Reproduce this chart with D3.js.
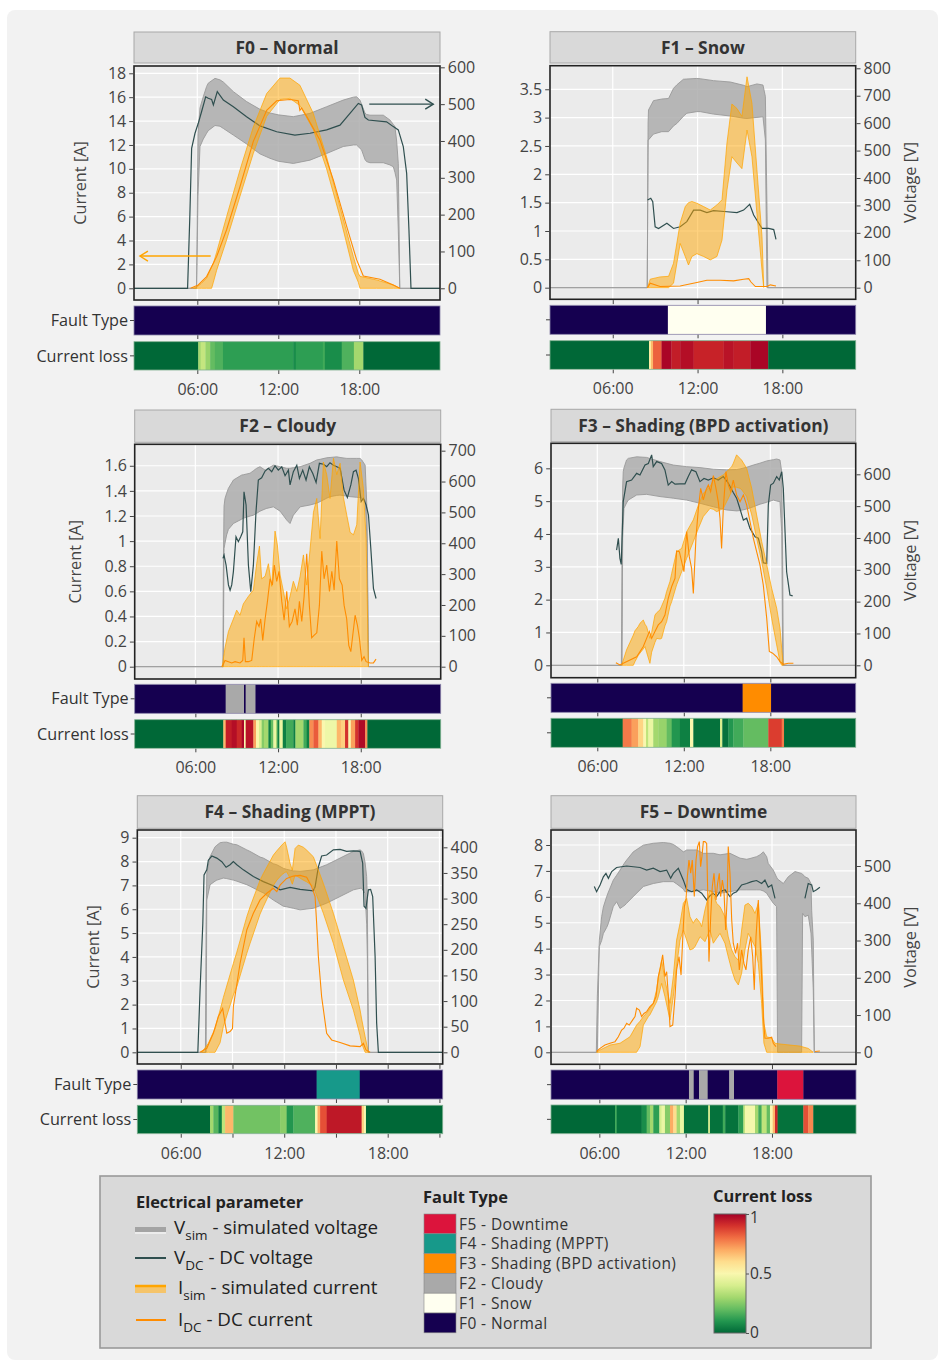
<!DOCTYPE html>
<html><head><meta charset="utf-8">
<script src="https://cdn.jsdelivr.net/npm/d3@7"></script>
<style>body{margin:0;background:#fff;} svg{display:block;font-family:"Open Sans",sans-serif;}</style>
</head><body><svg id="c" width="940" height="1363"></svg>
<script>
// ---------------- DATA ----------------
const timeLabels = {6:"06:00",12:"12:00",18:"18:00"};
const timeTicks = [6,12,18];
const timeTicksF4 = [6,9,12,15,18,21];
const faultNames = ["F0 - Normal","F1 - Snow","F2 - Cloudy","F3 - Shading (BPD activation)","F4 - Shading (MPPT)","F5 - Downtime"];
const faultColors = ["#150050","#fffff0","#a9a9a9","#ff8c00","#17998a","#dc143c"];

// F0 – Normal
const F0_iTicks=[0,2,4,6,8,10,12,14,16,18];
const F0_vTicks=[0,100,200,300,400,500,600];
const F0_vsim=[[0,0,0],[5.95,0,0],[6.05,250,420],[6.2,385,490],[6.44,405,520],[6.69,421,548],[6.81,428,557],[7.31,442,570],[7.68,440,566],[7.93,434,560],[8.67,416,534],[9.65,392,507],[10.64,365,486],[11.38,353,476],[12.0,345,471],[13.11,339,466],[14.35,348,475],[15.58,366,493],[16.81,385,511],[17.56,389,519],[17.8,389,520],[18.05,380,511],[18.17,376,500],[18.42,350,476],[18.54,344,472],[18.79,341,470],[19.78,341,470],[20.27,335,457],[20.52,330,445],[20.64,315,439],[20.77,294,400],[20.89,158,339],[21.0,0,0],[24,0,0]];
const F0_vdc=[[0,0],[5.28,0],[5.45,200],[5.58,380],[5.83,421],[6.07,448],[6.32,480],[6.62,520],[6.81,516],[7.06,513],[7.19,498],[7.48,534],[7.93,511],[8.67,493],[9.65,466],[10.64,441],[11.88,425],[13.23,416],[14.35,421],[15.58,430],[16.57,443],[17.31,475],[17.93,502],[18.17,498],[18.42,464],[18.67,457],[20.02,452],[20.52,439],[20.89,430],[21.26,385],[21.51,312],[21.68,158],[21.83,0],[24,0]];
const F0_isim=[[5.7,0,0],[5.95,0,0.1],[6.3,0,0.4],[6.69,0,0.84],[7.06,0,1.8],[7.19,0.5,2.09],[7.43,1.5,3.0],[8.17,4.05,6.0],[9.16,7.7,9.9],[10.15,11.3,13.5],[11.14,14.4,16.3],[12.12,15.8,17.6],[12.86,15.9,17.6],[13.6,15.3,17.0],[14.59,13.3,14.65],[15.58,10.0,11.0],[16.57,6.0,6.8],[17.56,1.5,2.65],[17.93,0.5,1.25],[18.05,0,1.0],[19.28,0,0.7],[20.52,0,0.28],[21.0,0,0]];
const F0_idc=[[5.5,0],[6.07,0.28],[6.69,0.98],[7.43,2.65],[8.17,4.9],[9.16,8.5],[10.15,12.3],[11.14,14.9],[11.88,15.7],[12.86,15.8],[13.48,15.7],[13.6,14.9],[13.73,15.1],[14.1,14.4],[15.09,12.4],[16.07,9.1],[17.06,5.2],[17.8,2.4],[18.3,1.03],[19.53,0.75],[20.52,0.28],[21.0,0]];
const F0_fault=[[0,24,0]];
const F0_loss=[[0,0],[6.07,0.3],[6.25,0.36],[6.6,0.28],[6.95,0.2],[7.3,0.17],[7.9,0.12],[13.1,0.08],[13.3,0.12],[15.3,0.15],[15.45,0.08],[16.7,0.17],[17.6,0.3],[18.3,0]];
const F0_arrows=[{from:[6.99,2.7],to:[1.75,2.7],axis:"I",color:"#ffa500"},{from:[18.74,500],to:[23.48,500],axis:"V",color:"#2f4f4f"}];

// F1 – Snow
const F1_iTicks=[0,0.5,1,1.5,2,2.5,3,3.5];
const F1_vTicks=[0,100,200,300,400,500,600,700,800];
const F1_vsim=[[0,0,0],[8.44,0,0],[8.5,539,600],[8.53,539,648],[8.88,560,682],[9.47,569,688],[9.95,569,690],[10.3,590,727],[10.54,599,740],[11.0,625,760],[11.24,636,761],[11.95,642,763],[12.19,642,762],[13.13,633,755],[14.32,626,750],[15.26,618,738],[15.5,617,733],[16.2,621,743],[16.63,623,739],[16.8,539,697],[16.91,0,300],[16.98,0,0],[24,0,0]];
const F1_vdc=[[8.46,320],[8.69,326],[8.83,314],[9.0,222],[9.24,216],[9.83,235],[10.3,216],[10.77,222],[11.24,241],[11.72,283],[12.19,283],[12.66,274],[13.13,281],[14.08,277],[14.79,274],[15.26,283],[15.69,304],[15.97,265],[16.56,216],[17.03,216],[17.39,212],[17.55,176]];
const F1_isim=[[8.46,0,0],[8.65,0,0.15],[9.35,0,0.19],[9.95,0,0.2],[10.3,0.08,0.43],[10.77,0.78,1.14],[11.13,0.55,1.43],[11.36,0.4,1.5],[11.6,0.55,1.52],[11.95,0.6,1.49],[12.43,0.55,1.43],[12.9,0.49,1.37],[13.37,0.55,1.46],[13.73,0.84,1.55],[14.08,1.72,2.55],[14.43,2.31,3.24],[14.79,2.2,3.16],[15.14,2.1,3.02],[15.5,2.78,3.72],[15.85,2.31,3.25],[16.2,1.31,2.08],[16.56,0.31,0.9],[16.68,0,0.02]];
const F1_idc=[[8.46,0],[8.65,0.08],[9.35,0.02],[10.77,0.03],[11.95,0.09],[12.66,0.13],[13.61,0.13],[14.55,0.12],[15.26,0.15],[15.62,0.16],[15.78,0.1],[16.09,0.02],[16.91,0.02],[17.15,0.05],[17.55,0.03]];
const F1_fault=[[0,9.9,0],[9.9,16.84,1],[16.84,24,0]];
const F1_loss=[[0,0],[8.57,0.55],[8.7,0.68],[8.85,0.82],[9.45,0.99],[10.15,0.94],[10.77,0.97],[11.72,0.93],[13.84,0.96],[14.55,0.94],[15.73,0.99],[17.0,0]];

// F2 – Cloudy
const F2_iTicks=[0,0.2,0.4,0.6,0.8,1,1.2,1.4,1.6];
const F2_vTicks=[0,100,200,300,400,500,600,700];
const F2_vsim=[[0,0,0],[8.0,0,0],[8.03,0,300],[8.08,383,520],[8.15,400,545],[8.27,427,562],[8.4,445,578],[8.76,464,605],[9.36,478,621],[9.48,481,622],[9.97,488,627],[10.21,491,635],[10.45,497,643],[10.69,504,648],[11.06,511,637],[11.18,513,640],[11.66,518,653],[12.15,504,648],[12.63,475,643],[12.87,464,643],[13.11,491,645],[13.6,518,648],[14.32,524,659],[14.81,530,670],[15.05,535,672],[15.53,546,677],[15.77,551,678],[16.26,555,680],[16.5,556,678],[16.98,553,675],[17.23,551,675],[17.71,549,675],[17.95,548,675],[18.07,546,670],[18.32,540,653],[18.44,420,524],[18.48,300,400],[18.56,0,0],[24,0,0]];
const F2_vdc=[[8.0,351],[8.08,362],[8.23,329],[8.4,265],[8.52,248],[8.64,265],[8.76,308],[8.95,421],[9.12,405],[9.29,421],[9.44,437],[9.53,567],[9.68,524],[9.85,329],[10.02,243],[10.21,329],[10.4,502],[10.57,605],[10.81,612],[11.06,634],[11.3,643],[11.54,632],[11.78,651],[12.02,637],[12.27,648],[12.51,619],[12.75,637],[12.87,589],[13.11,632],[13.36,653],[13.55,610],[13.79,637],[14.03,605],[14.27,648],[14.52,626],[14.76,597],[15.0,659],[15.29,656],[15.53,648],[15.77,661],[16.02,653],[16.26,648],[16.5,643],[16.79,572],[17.03,548],[17.28,589],[17.47,632],[17.66,637],[17.83,610],[18.03,535],[18.19,545],[18.39,524],[18.56,491],[18.73,383],[18.92,254],[19.11,221]];
const F2_isim=[[7.95,0,0],[8.15,0,0.15],[8.4,0,0.28],[8.76,0,0.38],[9.0,0,0.45],[9.24,0,0.41],[9.48,0,0.5],[9.85,0,0.56],[10.21,0,0.61],[10.45,0,0.82],[10.65,0,0.96],[10.81,0,0.7],[11.06,0,0.72],[11.3,0,0.82],[11.54,0,0.64],[11.78,0,1.08],[11.95,0,0.97],[12.15,0,0.73],[12.39,0,0.6],[12.63,0,0.46],[12.87,0,0.56],[13.11,0,0.68],[13.36,0,0.6],[13.6,0,0.72],[13.84,0,0.89],[14.08,0,0.65],[14.32,0,0.93],[14.57,0,1.23],[14.81,0,1.34],[15.05,0,1.02],[15.29,0,1.63],[15.53,0,1.53],[15.77,0,1.34],[16.02,0,1.66],[16.26,0,1.53],[16.5,0,1.62],[16.74,0,1.35],[16.98,0,1.21],[17.23,0,1.07],[17.47,0,1.05],[17.71,0,1.13],[17.95,0,1.63],[18.19,0,1.42],[18.39,0,1.02],[18.56,0,0]];
const F2_idc=[[7.91,0],[8.03,0.02],[8.15,0.05],[8.4,0.04],[8.64,0.03],[8.88,0.04],[9.24,0.03],[9.44,0.05],[9.53,0.23],[9.63,0.04],[9.85,0.04],[10.09,0.05],[10.28,0.23],[10.45,0.36],[10.62,0.32],[10.74,0.38],[10.89,0.21],[11.06,0.38],[11.23,0.52],[11.42,0.7],[11.59,0.65],[11.73,0.81],[11.9,0.68],[12.07,0.76],[12.27,0.52],[12.44,0.37],[12.63,0.6],[12.82,0.32],[13.02,0.36],[13.23,0.46],[13.4,0.33],[13.55,0.52],[13.72,0.36],[13.89,0.56],[14.08,0.9],[14.27,0.49],[14.44,0.23],[14.61,0.25],[14.81,0.27],[15.0,0.49],[15.17,0.92],[15.34,0.7],[15.53,0.81],[15.73,0.6],[15.9,0.76],[16.07,0.61],[16.26,1.0],[16.45,0.7],[16.65,0.65],[16.79,0.49],[16.98,0.38],[17.13,0.17],[17.28,0.12],[17.42,0.25],[17.59,0.41],[17.76,0.33],[17.9,0.23],[18.07,0.05],[18.24,0.08],[18.39,0.04],[18.68,0.03],[18.92,0.03],[19.11,0.06]];
const F2_fault=[[0,8.2,0],[8.2,9.53,2],[9.53,9.65,0],[9.65,10.36,2],[10.36,24,0]];
const F2_loss=[[0,0],[8.03,0.68],[8.2,0.94],[8.64,0.97],[9.0,0.92],[9.36,0.99],[9.53,0.5],[9.65,0.96],[10.21,0.72],[10.4,0.52],[10.62,0.4],[10.81,0.25],[10.98,0.3],[11.3,0.05],[11.47,0.2],[11.66,0.45],[11.86,0.28],[11.95,0.05],[12.1,0.45],[12.34,0.05],[12.58,0.15],[13.11,0.05],[13.26,0.3],[13.84,0.15],[14.08,0.05],[14.27,0.75],[14.57,0.83],[14.93,0.68],[15.17,0.5],[15.41,0.46],[16.26,0.68],[16.55,0.63],[16.86,0.9],[17.1,0.52],[17.28,0.72],[17.59,0.9],[17.83,0.98],[18.32,0.75],[18.48,0]];

// F3 – Shading (BPD activation)
const F3_iTicks=[0,1,2,3,4,5,6];
const F3_vTicks=[0,100,200,300,400,500,600];
const F3_vsim=[[0,0,0],[7.67,0,0],[7.72,0,400],[7.76,399,560],[7.8,440,608],[7.85,493,620],[8.03,510,645],[8.15,519,650],[8.73,535,655],[9.42,537,653],[10.35,530,640],[11.27,525,629],[12.2,519,624],[13.12,509,621],[14.05,498,616],[14.97,488,614],[15.66,485,615],[15.9,486,617],[16.36,491,622],[16.82,498,629],[17.28,506,635],[17.75,512,642],[18.21,519,646],[18.44,516,648],[18.67,514,645],[18.79,420,608],[18.86,0,300],[18.9,0,0],[24,0,0]];
const F3_vdc=[[7.34,362],[7.46,399],[7.57,336],[7.66,317],[7.8,514],[8.03,577],[8.38,582],[8.73,603],[8.96,598],[9.31,629],[9.54,634],[9.77,661],[9.88,624],[10.12,640],[10.46,634],[10.69,614],[10.92,566],[11.16,577],[11.39,569],[11.73,570],[12.08,570],[12.31,593],[12.54,614],[12.84,608],[13.12,577],[13.4,587],[13.7,582],[14.05,589],[14.39,582],[14.74,593],[15.09,572],[15.43,543],[15.66,525],[15.85,498],[16.13,456],[16.36,462],[16.59,430],[16.94,404],[17.17,399],[17.4,357],[17.51,322],[17.75,320],[17.86,504],[18.02,566],[18.21,572],[18.44,593],[18.62,582],[18.79,608],[18.9,556],[19.13,294],[19.36,221],[19.55,218]];
const F3_isim=[[7.69,0,0],[8.03,0,0.47],[8.27,0,0.7],[8.5,0,0.92],[8.61,0.11,1.05],[8.84,0.3,1.18],[8.96,0.37,1.28],[9.19,0.5,1.38],[9.31,0.57,1.25],[9.42,0.4,1.18],[9.65,0.06,0.82],[9.77,0.4,1.0],[10.0,0.7,1.53],[10.12,0.82,1.6],[10.35,0.8,1.69],[10.46,0.82,1.8],[10.69,1.2,2.04],[10.81,1.33,2.25],[11.04,1.8,2.55],[11.16,1.94,2.8],[11.5,2.45,3.46],[11.85,2.85,3.56],[12.2,3.26,4.07],[12.66,3.77,4.43],[13.01,4.17,4.88],[13.35,4.53,5.24],[13.82,4.78,5.44],[14.05,4.75,5.64],[14.28,4.68,5.68],[14.74,4.78,5.8],[15.09,5.09,5.95],[15.32,5.3,6.05],[15.43,5.44,6.15],[15.66,5.42,6.41],[15.9,5.39,6.3],[16.01,5.35,6.25],[16.36,5.14,6.0],[16.71,4.58,5.39],[17.05,3.87,4.58],[17.4,3.16,3.77],[17.75,2.35,3.06],[18.09,1.43,2.35],[18.44,0.62,1.74],[18.67,0.1,1.13],[18.79,0,0.5],[18.9,0,0]];
const F3_idc=[[7.29,0.08],[7.57,0.01],[7.8,0.06],[8.27,0.16],[8.73,0.26],[9.19,0.57],[9.42,0.82],[9.61,1.03],[9.77,0.82],[10.0,1.03],[10.23,1.23],[10.46,1.33],[10.69,1.53],[10.92,2.04],[11.16,2.4],[11.39,2.65],[11.5,3.48],[11.69,3.46],[11.85,3.16],[12.01,2.85],[12.2,4.07],[12.38,3.31],[12.54,2.95],[12.66,2.19],[12.84,3.87],[13.01,4.78],[13.17,5.39],[13.35,5.04],[13.54,5.34],[13.7,5.49],[13.86,5.29],[14.05,5.78],[14.23,5.39],[14.39,4.98],[14.51,4.48],[14.62,3.56],[14.74,4.78],[14.92,5.9],[15.09,5.49],[15.25,5.29],[15.43,5.64],[15.66,5.19],[15.9,4.98],[16.13,5.19],[16.36,4.88],[16.59,4.38],[16.82,3.87],[17.05,3.46],[17.28,3.06],[17.51,2.45],[17.75,1.43],[17.93,0.42],[18.16,0.37],[18.44,0.26],[18.67,0.11],[18.9,0.03],[19.25,0.06],[19.6,0.06]];
const F3_fault=[[0,16.08,0],[16.08,18.05,3],[18.05,24,0]];
const F3_loss=[[0,0],[7.76,0.78],[8.38,0.72],[8.84,0.62],[9.19,0.5],[9.38,0.35],[9.54,0.45],[9.88,0.3],[10.23,0.28],[10.81,0.2],[11.16,0.1],[11.73,0.05],[12.43,0.5],[12.66,0.02],[14.51,0.4],[14.67,0.02],[15.09,0.1],[15.43,0.15],[16.13,0.2],[17.86,0.88],[18.79,0.78],[18.95,0]];

// F4 – Shading (MPPT)
const F4_iTicks=[0,1,2,3,4,5,6,7,8,9];
const F4_vTicks=[0,50,100,150,200,250,300,350,400];
const F4_vsim=[[0,0,0],[7.43,0,0],[7.47,0,250],[7.51,297,349],[7.7,327,382],[7.99,334,401],[8.09,336,404],[8.28,338,409],[8.47,340,410],[8.67,339,410],[9.05,336,406],[9.25,334,405],[9.83,327,395],[10.02,324,392],[10.6,314,381],[10.79,311,379],[11.37,297,368],[11.57,293,366],[11.95,285,359],[12.14,284,357],[12.53,281,354],[12.92,278,353],[13.69,281,356],[14.46,291,366],[15.24,304,379],[16.01,317,392],[16.4,320,395],[16.49,320,393],[16.59,315,388],[16.69,310,370],[16.78,250,343],[16.82,187,300],[16.88,0,0],[24,0,0]];
const F4_vdc=[[0,0],[6.99,0],[7.12,122],[7.28,252],[7.35,346],[7.51,356],[7.6,375],[7.8,383],[8.09,379],[8.38,372],[8.63,361],[8.86,366],[9.05,372],[9.25,366],[9.63,356],[10.21,343],[10.79,333],[11.37,325],[11.76,317],[12.34,322],[12.92,318],[13.69,315],[13.79,323],[13.98,362],[14.17,383],[14.46,385],[14.85,395],[15.24,396],[15.62,392],[16.01,393],[16.4,392],[16.55,369],[16.63,285],[16.74,281],[16.88,317],[17.01,318],[17.13,304],[17.27,187],[17.36,57],[17.46,0],[24,0]];
const F4_isim=[[7.22,0,0],[7.6,0,0.38],[7.99,0,1.0],[8.28,0.4,1.77],[8.47,1.08,2.3],[9.05,2.4,3.73],[9.25,2.75,4.2],[9.83,4.15,5.69],[10.02,4.57,6.1],[10.6,5.8,7.22],[10.79,6.11,7.5],[11.37,7.0,8.27],[11.57,7.22,8.45],[11.86,7.45,8.69],[12.05,7.55,8.83],[12.14,7.57,8.6],[12.34,7.3,7.92],[12.47,7.05,7.64],[12.63,7.43,8.55],[12.82,7.35,8.69],[13.11,7.22,8.6],[13.3,7.15,8.48],[13.69,6.95,8.2],[14.27,5.83,7.08],[14.85,4.57,5.83],[15.43,3.03,4.43],[16.01,1.77,3.03],[16.4,0.7,1.77],[16.49,0.38,1.4],[16.69,0,0.66],[16.88,0,0]];
const F4_idc=[[7.12,0],[7.51,0.17],[7.89,0.8],[8.18,1.5],[8.43,1.84],[8.57,1.22],[8.67,0.8],[8.86,0.87],[9.0,1.0],[9.05,1.91],[9.44,3.73],[9.83,5.13],[10.21,5.83],[10.6,6.39],[10.99,6.67],[11.37,6.88],[11.57,6.74],[11.76,7.01],[12.14,7.29],[12.53,7.39],[12.92,7.42],[13.3,7.34],[13.59,6.95],[13.79,6.53],[13.88,5.41],[13.98,4.01],[14.17,2.33],[14.46,0.8],[14.75,0.52],[15.24,0.41],[15.82,0.27],[16.4,0.24],[16.59,0.38],[16.74,0.1],[16.98,0]];
const F4_fault=[[0,13.88,0],[13.88,16.38,4],[16.38,24,0]];
const F4_loss=[[0,0],[7.7,0.3],[7.89,0.18],[8.18,0.05],[8.38,0.35],[8.57,0.68],[9.05,0.22],[11.76,0.26],[12.14,0.1],[12.53,0.17],[13.79,0.5],[13.93,0.7],[14.08,0.85],[14.46,0.95],[16.49,0.62],[16.63,0.5],[16.74,0]];

// F5 – Downtime
const F5_iTicks=[0,1,2,3,4,5,6,7,8];
const F5_vTicks=[0,100,200,300,400,500];
const F5_vsim=[[0,0,0],[5.79,0,0],[5.86,0,149],[6.0,284,301],[6.16,300,364],[6.28,319,390],[6.51,335,418],[6.63,346,430],[6.97,391,462],[7.2,404,475],[7.44,386,489],[7.78,395,510],[7.9,400,516],[8.36,418,538],[9.06,445,556],[9.75,453,561],[10.45,458,563],[10.91,458,561],[11.14,458,558],[11.37,452,552],[11.61,445,545],[11.84,438,538],[11.95,431,540],[12.07,431,543],[12.53,431,543],[12.76,433,543],[13.23,436,534],[13.92,431,534],[14.39,427,530],[15.08,431,534],[15.78,436,521],[16.24,436,518],[16.47,436,520],[16.93,436,525],[17.17,436,530],[17.4,433,538],[17.63,427,525],[17.74,420,507],[18.09,400,489],[18.32,391,470],[18.39,0,465],[18.79,0,453],[19.13,0,471],[19.6,0,485],[20.06,0,480],[20.13,373,478],[20.29,364,471],[20.52,368,467],[20.71,320,453],[20.76,275,380],[20.87,167,301],[20.94,0,0],[24,0,0]];
const F5_vdc=[[5.65,445],[5.81,431],[6.05,449],[6.28,471],[6.46,480],[6.63,467],[6.86,485],[7.2,496],[7.55,498],[7.9,500],[8.36,498],[8.83,496],[9.29,489],[9.75,494],[10.22,485],[10.68,489],[10.96,467],[11.14,480],[11.49,494],[11.84,462],[12.07,437],[12.42,431],[12.76,436],[13.11,427],[13.46,409],[13.69,420],[13.92,427],[14.15,418],[14.39,431],[14.73,436],[15.08,418],[15.31,427],[15.54,431],[15.89,449],[16.24,453],[16.59,458],[16.93,461],[17.28,453],[17.51,462],[17.74,443],[17.98,449],[18.21,413],[18.3,null],[20.29,413],[20.52,453],[20.76,449],[20.87,431],[21.1,436],[21.33,443]];
const F5_isim=[[5.81,0,0],[6.05,0,0.09],[6.74,0,0.28],[7.44,0,0.35],[8.13,0,0.6],[8.59,0,1.05],[8.83,0.22,1.2],[9.06,1.05,1.38],[9.41,1.38,1.6],[9.52,1.45,1.7],[9.75,1.7,1.89],[9.98,1.95,2.41],[10.1,2.15,2.9],[10.33,2.66,3.56],[10.56,2.15,2.79],[10.91,1.25,1.89],[11.14,2.15,2.92],[11.37,3.31,4.33],[11.61,4.33,4.98],[11.84,4.72,5.75],[12.07,4.33,5.94],[12.3,3.95,5.23],[12.53,4.0,4.98],[12.65,4.08,5.1],[12.76,4.2,5.17],[13.0,4.46,5.0],[13.11,4.4,4.85],[13.34,4.27,5.49],[13.69,4.72,6.26],[13.92,4.21,6.14],[14.15,4.4,5.75],[14.39,4.59,5.62],[14.73,4.21,5.23],[14.96,3.69,4.46],[15.2,3.18,3.95],[15.43,2.79,3.69],[15.66,2.6,3.56],[15.89,3.05,4.72],[16.12,3.95,5.68],[16.35,4.59,5.75],[16.59,4.33,5.62],[16.82,4.08,5.36],[17.05,3.43,5.75],[17.28,1.89,3.69],[17.44,0.35,1.12],[17.63,0,0.6],[17.98,0,0.54],[18.21,0,0.35],[18.56,0,0.32],[19.25,0,0.28],[19.94,0,0.24],[20.52,0,0.15],[20.87,0,0]];
const F5_idc=[[5.81,0.03],[6.05,0.15],[6.39,0.28],[6.74,0.35],[7.09,0.41],[7.32,0.6],[7.55,0.86],[7.71,0.93],[7.9,1.12],[8.08,1.05],[8.32,1.25],[8.48,1.38],[8.59,1.7],[8.78,1.63],[8.94,1.38],[9.1,1.5],[9.29,1.57],[9.52,1.76],[9.75,1.89],[9.94,2.15],[10.1,2.92],[10.26,3.31],[10.4,3.76],[10.56,2.92],[10.68,3.11],[10.8,2.15],[10.91,0.99],[11.1,1.05],[11.26,2.15],[11.37,3.18],[11.54,3.69],[11.68,2.98],[11.79,4.33],[11.91,5.62],[12.02,5.88],[12.12,6.78],[12.23,7.42],[12.35,6.91],[12.46,7.42],[12.6,6.01],[12.72,7.42],[12.83,7.94],[12.95,8.13],[13.04,7.16],[13.13,7.55],[13.23,8.13],[13.34,8.13],[13.46,8.06],[13.53,6.26],[13.62,3.5],[13.74,5.23],[13.85,6.39],[13.97,6.91],[14.11,5.88],[14.22,6.52],[14.34,6.91],[14.43,6.01],[14.55,6.65],[14.66,6.26],[14.78,4.72],[14.89,6.01],[14.96,7.94],[15.08,6.91],[15.2,5.11],[15.31,4.21],[15.47,3.82],[15.61,4.21],[15.73,3.18],[15.89,3.95],[16.05,3.43],[16.19,3.18],[16.35,3.95],[16.52,4.46],[16.66,3.69],[16.77,2.41],[16.89,4.46],[17.05,5.88],[17.17,4.33],[17.28,2.92],[17.4,1.38],[17.51,0.54],[17.74,0.54],[17.98,0.58],[18.09,0.35],[18.28,0.22],[18.35,null],[20.99,0.03],[21.33,0.05]];
const F5_fault=[[0,12.23,0],[12.23,12.56,2],[12.56,12.93,0],[12.93,13.53,2],[13.53,15.03,0],[15.03,15.36,2],[15.36,18.37,0],[18.37,20.18,5],[20.18,24,0]];
const F5_loss=[[0,0],[7.09,0.15],[7.2,0.02],[8.94,0.08],[9.29,0.2],[9.52,0.3],[9.75,0.12],[10.17,0.4],[10.33,0.45],[10.56,0.25],[10.91,0.7],[11.14,0.6],[11.37,0.3],[11.61,0.45],[11.88,0.02],[13.57,0.4],[13.69,0.02],[14.58,0.15],[14.75,0.02],[15.66,0.12],[16.01,0.35],[16.12,0.48],[16.82,0.3],[17.05,0.15],[17.28,0.35],[17.63,0.2],[17.86,0.5],[18.05,0.68],[18.21,0.92],[18.39,0.02],[20.18,0.85],[20.52,0.76],[20.87,0]];

// ---------------- LAYOUT ----------------
const panels=[
 {key:"F0",title:"F0 – Normal",x0:134,x1:440,yT:66,yB:300,strip:[32,63],fault:[306,335],loss:[341.7,370],lab:395,xd:[1.31,23.98],id:[-0.98,18.61],vd:[-31.8,603.6],ltitle:80,rtitle:null,bandLab:true,ticks:timeTicks,
  vsim:F0_vsim,vdc:F0_vdc,isim:F0_isim,idc:F0_idc,faultD:F0_fault,lossD:F0_loss,iT:F0_iTicks,vT:F0_vTicks,arrows:F0_arrows},
 {key:"F1",title:"F1 – Snow",x0:550,x1:855.7,yT:65.7,yB:299.3,strip:[31.7,63],fault:[305.3,334.3],loss:[340.7,369.3],lab:394,xd:[1.56,23.19],id:[-0.205,3.916],vd:[-42.3,809.5],ltitle:null,rtitle:910,bandLab:false,ticks:timeTicks,
  vsim:F1_vsim,vdc:F1_vdc,isim:F1_isim,idc:F1_idc,faultD:F1_fault,lossD:F1_loss,iT:F1_iTicks,vT:F1_vTicks},
 {key:"F2",title:"F2 – Cloudy",x0:134.7,x1:440.7,yT:444.3,yB:679,strip:[410,442.3],fault:[684.3,713.3],loss:[719.7,748.3],lab:772.5,xd:[1.6,23.8],id:[-0.098,1.771],vd:[-39.9,720.7],ltitle:75,rtitle:null,bandLab:true,ticks:timeTicks,
  vsim:F2_vsim,vdc:F2_vdc,isim:F2_isim,idc:F2_idc,faultD:F2_fault,lossD:F2_loss,iT:F2_iTicks,vT:F2_vTicks},
 {key:"F3",title:"F3 – Shading (BPD activation)",x0:551,x1:855.7,yT:443.3,yB:677.7,strip:[409.3,441.7],fault:[683.3,712.3],loss:[718.3,747.3],lab:771.5,xd:[2.79,23.92],id:[-0.378,6.762],vd:[-38.96,697.4],ltitle:null,rtitle:910,bandLab:false,ticks:timeTicks,
  vsim:F3_vsim,vdc:F3_vdc,isim:F3_isim,idc:F3_idc,faultD:F3_fault,lossD:F3_loss,iT:F3_iTicks,vT:F3_vTicks},
 {key:"F4",title:"F4 – Shading (MPPT)",x0:137.3,x1:442.7,yT:830,yB:1064,strip:[795.7,828.3],fault:[1070,1099],loss:[1105.3,1133.7],lab:1158.5,xd:[3.48,21.19],id:[-0.49,9.323],vd:[-22.8,433.8],ltitle:93,rtitle:null,bandLab:true,ticks:timeTicksF4,
  vsim:F4_vsim,vdc:F4_vdc,isim:F4_isim,idc:F4_idc,faultD:F4_fault,lossD:F4_loss,iT:F4_iTicks,vT:F4_vTicks},
 {key:"F5",title:"F5 – Downtime",x0:551,x1:856,yT:830,yB:1064.3,strip:[795.7,828.3],fault:[1070,1099.3],loss:[1105,1133.7],lab:1158.5,xd:[2.64,23.84],id:[-0.463,8.579],vd:[-32.2,596.6],ltitle:null,rtitle:910,bandLab:false,ticks:timeTicks,
  vsim:F5_vsim,vdc:F5_vdc,isim:F5_isim,idc:F5_idc,faultD:F5_fault,lossD:F5_loss,iT:F5_iTicks,vT:F5_vTicks}
];

// ---------------- DRAW ----------------
const svg=d3.select("#c");
svg.append("rect").attr("width",940).attr("height",1363).attr("fill","#fff");
svg.append("rect").attr("x",7).attr("y",10).attr("width",931).attr("height",1350).attr("rx",8).attr("fill","#f2f2f2");
const defs=svg.append("defs");
const lossColor=v=>d3.interpolateRdYlGn(1-v);
const TXT="#444";

function styleAxis(a){
  a.select(".domain").remove();
  a.selectAll(".tick line").attr("stroke","#444");
  a.selectAll(".tick text").attr("fill",TXT).attr("font-size",16).attr("font-family","'Open Sans',sans-serif");
}

panels.forEach(P=>{
  const g=svg.append("g");
  const x=d3.scaleLinear().domain(P.xd).range([P.x0,P.x1]);
  const yi=d3.scaleLinear().domain(P.id).range([P.yB,P.yT]);
  const yv=d3.scaleLinear().domain(P.vd).range([P.yB,P.yT]);
  const W=P.x1-P.x0;
  g.append("rect").attr("x",P.x0).attr("y",P.strip[0]).attr("width",W).attr("height",P.strip[1]-P.strip[0]).attr("fill","#d9d9d9").attr("stroke","#a8a8a8").attr("stroke-width",1);
  g.append("text").attr("x",(P.x0+P.x1)/2).attr("y",(P.strip[0]+P.strip[1])/2).attr("dy","0.36em").attr("text-anchor","middle").attr("font-weight","bold").attr("font-size",17.4).attr("fill","#333").text(P.title);
  g.append("rect").attr("x",P.x0).attr("y",P.yT).attr("width",W).attr("height",P.yB-P.yT).attr("fill","#ebebeb");
  g.selectAll(".hg").data(P.iT).enter().append("line").attr("x1",P.x0).attr("x2",P.x1).attr("y1",d=>yi(d)).attr("y2",d=>yi(d)).attr("stroke","#fff").attr("stroke-width",1.2);
  g.selectAll(".vg").data(P.ticks).enter().append("line").attr("y1",P.yT).attr("y2",P.yB).attr("x1",d=>x(d)).attr("x2",d=>x(d)).attr("stroke","#fff").attr("stroke-width",1.2);
  defs.append("clipPath").attr("id","cp"+P.key).append("rect").attr("x",P.x0).attr("y",P.yT).attr("width",W).attr("height",P.yB-P.yT);
  const pg=g.append("g").attr("clip-path",`url(#cp${P.key})`);
  pg.append("path").datum(P.vsim).attr("d",d3.area().x(d=>x(d[0])).y0(d=>yv(d[1])).y1(d=>yv(d[2]))).attr("fill","#a9a9a9").attr("fill-opacity",0.82);
  [1,2].forEach(k=>pg.append("path").datum(P.vsim).attr("d",d3.line().x(d=>x(d[0])).y(d=>yv(d[k]))).attr("fill","none").attr("stroke","#9a9a9a").attr("stroke-width",0.9));
  pg.append("path").datum(P.vdc).attr("d",d3.line().defined(d=>d[1]!==null).x(d=>x(d[0])).y(d=>yv(d[1]))).attr("fill","none").attr("stroke","#2f4f4f").attr("stroke-width",1.2);
  pg.append("path").datum(P.isim).attr("d",d3.area().x(d=>x(d[0])).y0(d=>yi(d[1])).y1(d=>yi(d[2]))).attr("fill","#ffa500").attr("fill-opacity",0.5);
  [1,2].forEach(k=>pg.append("path").datum(P.isim).attr("d",d3.line().x(d=>x(d[0])).y(d=>yi(d[k]))).attr("fill","none").attr("stroke","#ffa500").attr("stroke-width",0.8).attr("stroke-opacity",0.9));
  pg.append("path").datum(P.idc).attr("d",d3.line().defined(d=>d[1]!==null).x(d=>x(d[0])).y(d=>yi(d[1]))).attr("fill","none").attr("stroke","#ff8c00").attr("stroke-width",1.1);
  (P.arrows||[]).forEach(a=>{
    const ys=a.axis==="I"?yi:yv;
    const x1=x(a.from[0]),x2=x(a.to[0]),yy=ys(a.from[1]);
    const dir=Math.sign(x2-x1);
    g.append("line").attr("x1",x1).attr("x2",x2).attr("y1",yy).attr("y2",yy).attr("stroke",a.color).attr("stroke-width",1.4);
    g.append("path").attr("d",`M${x2-dir*8},${yy-5}L${x2},${yy}L${x2-dir*8},${yy+5}`).attr("fill","none").attr("stroke",a.color).attr("stroke-width",1.4);
  });
  g.append("rect").attr("x",P.x0).attr("y",P.yT).attr("width",W).attr("height",P.yB-P.yT).attr("fill","none").attr("stroke","#222").attr("stroke-width",1.6);
  const fmt=d3.format("~g");
  const la=g.append("g").attr("transform",`translate(${P.x0-0.8},0)`).call(d3.axisLeft(yi).tickValues(P.iT).tickFormat(fmt).tickSize(4).tickPadding(3));
  styleAxis(la);
  const ra=g.append("g").attr("transform",`translate(${P.x1+0.8},0)`).call(d3.axisRight(yv).tickValues(P.vT).tickFormat(fmt).tickSize(4).tickPadding(3));
  styleAxis(ra);
  [[P.yB+0.8,false],[P.fault[1],false],[P.loss[1],true]].forEach(([yy,lab])=>{
    const ax=g.append("g").attr("transform",`translate(0,${yy})`).call(d3.axisBottom(x).tickValues(P.ticks).tickFormat(d=>lab?(timeLabels[d]||""):"").tickSize(4).tickPadding(lab?(P.lab-yy-15):3));
    styleAxis(ax);
  });
  defs.append("clipPath").attr("id","cf"+P.key).append("rect").attr("x",P.x0).attr("y",P.fault[0]).attr("width",W).attr("height",P.loss[1]-P.fault[0]);
  const bg=g.append("g").attr("clip-path",`url(#cf${P.key})`);
  bg.selectAll(".ft").data(P.faultD).enter().append("rect").attr("x",d=>x(d[0])).attr("width",d=>x(d[1])-x(d[0])+0.3).attr("y",P.fault[0]).attr("height",P.fault[1]-P.fault[0]).attr("fill",d=>faultColors[d[2]]);
  const L=P.lossD;
  bg.selectAll(".ls").data(L).enter().append("rect").attr("x",d=>x(d[0])).attr("width",(d,i)=>x(i<L.length-1?L[i+1][0]:24)-x(d[0])+0.3).attr("y",P.loss[0]).attr("height",P.loss[1]-P.loss[0]).attr("fill",d=>lossColor(d[1]));
  g.append("rect").attr("x",P.x0).attr("y",P.fault[0]).attr("width",W).attr("height",P.fault[1]-P.fault[0]).attr("fill","none").attr("stroke","#8a84a8").attr("stroke-width",0.8);
  g.append("rect").attr("x",P.x0).attr("y",P.loss[0]).attr("width",W).attr("height",P.loss[1]-P.loss[0]).attr("fill","none").attr("stroke","#7fb08f").attr("stroke-width",0.8);
  [[P.fault,"Fault Type"],[P.loss,"Current loss"]].forEach(([b,name])=>{
    const cy=(b[0]+b[1])/2;
    g.append("line").attr("x1",P.x0-4).attr("x2",P.x0).attr("y1",cy).attr("y2",cy).attr("stroke","#444");
    if(P.bandLab) g.append("text").attr("x",P.x0-6).attr("y",cy).attr("dy","0.35em").attr("text-anchor","end").attr("font-size",16.2).attr("fill","#333").text(name);
  });
  const cy=(P.yT+P.yB)/2;
  if(P.ltitle) g.append("text").attr("transform",`translate(${P.ltitle},${cy}) rotate(-90)`).attr("dy","0.35em").attr("text-anchor","middle").attr("font-size",16.3).attr("fill",TXT).text("Current [A]");
  if(P.rtitle) g.append("text").attr("transform",`translate(${P.rtitle},${cy}) rotate(-90)`).attr("dy","0.35em").attr("text-anchor","middle").attr("font-size",16.3).attr("fill",TXT).text("Voltage [V]");
});

// ---------------- LEGEND ----------------
const lg=svg.append("g");
lg.append("rect").attr("x",100).attr("y",1176).attr("width",771).attr("height",172).attr("fill","#d9d9d9").attr("stroke","#999").attr("stroke-width",1.6);
lg.append("text").attr("x",136).attr("y",1208).attr("font-weight","bold").attr("font-size",16.4).attr("fill","#222").text("Electrical parameter");
const elecItems=[
 {main:"V",sub:"sim",rest:" - simulated voltage",y:1228,type:"vsim"},
 {main:"V",sub:"DC",rest:" - DC voltage",y:1258,type:"vdc"},
 {main:"I",sub:"sim",rest:" - simulated current",y:1288,type:"isim"},
 {main:"I",sub:"DC",rest:" - DC current",y:1320,type:"idc"}
];
elecItems.forEach(it=>{
  const y=it.y;
  if(it.type==="vsim"){
    lg.append("rect").attr("x",135).attr("y",y-1).attr("width",31).attr("height",5).attr("fill","#a4a4a4");
    lg.append("line").attr("x1",135).attr("x2",166).attr("y1",y+5).attr("y2",y+5).attr("stroke","#f2f2f2").attr("stroke-width",1.5);
  } else if(it.type==="vdc"){
    lg.append("line").attr("x1",135).attr("x2",166).attr("y1",y).attr("y2",y).attr("stroke","#2f4f4f").attr("stroke-width",2);
  } else if(it.type==="isim"){
    lg.append("rect").attr("x",135).attr("y",y-1).attr("width",31).attr("height",6).attr("fill","#f5c46a");
    lg.append("line").attr("x1",135).attr("x2",166).attr("y1",y-2).attr("y2",y-2).attr("stroke","#ffa500").attr("stroke-width",2.5);
  } else {
    lg.append("line").attr("x1",136).attr("x2",166).attr("y1",y).attr("y2",y).attr("stroke","#ff8c00").attr("stroke-width",2);
  }
  const t=lg.append("text").attr("x",it.main==="I"?178:174).attr("y",y+6).attr("font-size",18.8).attr("fill","#222");
  t.append("tspan").text(it.main);
  t.append("tspan").attr("font-size",13.5).attr("dy",6).text(it.sub);
  t.append("tspan").attr("dy",-6).attr("font-size",18.8).text(it.rest);
});
lg.append("text").attr("x",423).attr("y",1203).attr("font-weight","bold").attr("font-size",16.4).attr("fill","#222").text("Fault Type");
const order=[5,4,3,2,1,0];
order.forEach((f,i)=>{
  const y0=1214+i*19.8;
  lg.append("rect").attr("x",424).attr("y",y0).attr("width",32).attr("height",19.8).attr("fill",faultColors[f]).attr("stroke","#888").attr("stroke-width",0.6);
  lg.append("text").attr("x",459).attr("y",y0+10).attr("dy","0.36em").attr("font-size",15.5).attr("letter-spacing",0.4).attr("fill","#333").text(faultNames[f]);
});
lg.append("text").attr("x",713).attr("y",1202).attr("font-weight","bold").attr("font-size",16.4).attr("fill","#222").text("Current loss");
const gradId="lossGrad";
const grad=defs.append("linearGradient").attr("id",gradId).attr("x1",0).attr("y1",1).attr("x2",0).attr("y2",0);
d3.range(0,1.0001,0.1).forEach(v=>grad.append("stop").attr("offset",v).attr("stop-color",lossColor(v)));
const cbScale=d3.scaleLinear().domain([0,1]).range([1333,1214]);
lg.append("rect").attr("x",714).attr("y",1214).attr("width",32).attr("height",119).attr("fill",`url(#${gradId})`).attr("stroke","#666").attr("stroke-width",1);
const cbAxis=lg.append("g").attr("transform","translate(746,0)").call(d3.axisRight(cbScale).tickValues([0,0.5,1]).tickFormat(d3.format("~g")).tickSize(3).tickPadding(1));
cbAxis.select(".domain").remove();
cbAxis.selectAll(".tick line").attr("stroke","#555");
cbAxis.selectAll(".tick text").attr("font-size",15.5).attr("fill","#333").attr("font-family","'Open Sans',sans-serif");
cbAxis.selectAll(".tick text").filter(d=>d===1).attr("dy","0.55em");
</script></body></html>
